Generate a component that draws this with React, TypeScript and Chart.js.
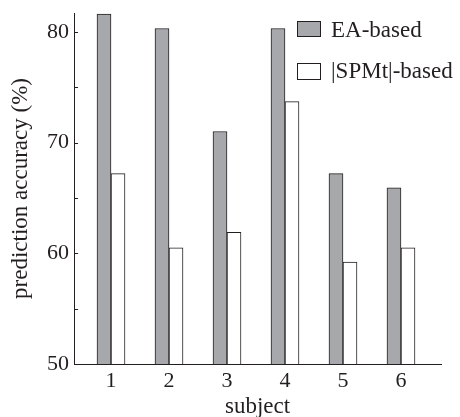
import React, { useEffect, useRef } from "react";
import { Chart, registerables } from "chart.js";

Chart.register(...registerables);

const subjects = [1, 2, 3, 4, 5, 6];
const eaBased = [81.6, 80.3, 71.0, 80.3, 67.2, 65.9];
const spmtBased = [67.2, 60.5, 61.9, 73.7, 59.2, 60.5];
const seriesLabels = ["EA-based", "|SPMt|-based"];
const yTickValues = [50, 55, 60, 65, 70, 75, 80];

const INK = "#231f20";
const GRAY = "#a7a8ac";
const FONT = '"Liberation Serif"';

const legendPlugin = {
  id: "customLegend",
  afterDraw(chart: any) {
    const ctx = chart.ctx;
    const ds = chart.data.datasets;
    const boxX = 297;
    const boxW = 24;
    const rows = [
      { top: 21, h: 16, base: 37 },
      { top: 63, h: 17, base: 77.5 },
    ];
    ctx.save();
    ds.forEach((d: any, i: number) => {
      const r = rows[i];
      ctx.fillStyle = d.backgroundColor;
      ctx.fillRect(boxX, r.top, boxW, r.h);
      ctx.strokeStyle = INK;
      ctx.lineWidth = 1;
      ctx.strokeRect(boxX + 0.5, r.top + 0.5, boxW - 1, r.h - 1);
      ctx.fillStyle = INK;
      ctx.font = `23px ${FONT}`;
      ctx.textBaseline = "alphabetic";
      ctx.textAlign = "left";
      ctx.fillText(d.label, 331, r.base);
    });
    ctx.restore();
  },
};

const innerTicksPlugin = {
  id: "innerTicks",
  afterDraw(chart: any) {
    const y = chart.scales.y;
    const ctx = chart.ctx;
    ctx.save();
    ctx.strokeStyle = INK;
    ctx.lineWidth = 1;
    yTickValues.forEach((v) => {
      const py = Math.round(y.getPixelForValue(v)) + 0.5;
      ctx.beginPath();
      ctx.moveTo(chart.chartArea.left, py);
      ctx.lineTo(chart.chartArea.left + 4, py);
      ctx.stroke();
    });
    ctx.restore();
  },
};

export default function App() {
  const ref = useRef<HTMLCanvasElement>(null);
  useEffect(() => {
    document.body.style.margin = "0";
    let chart: any = null;
    let cancelled = false;
    const build = () => {
      if (cancelled || !ref.current) return;
      chart = new Chart(ref.current as HTMLCanvasElement, {
        type: "bar",
        data: {
          datasets: [
            {
              label: seriesLabels[0],
              data: subjects.map((s, i) => ({ x: s, y: eaBased[i] })),
              backgroundColor: GRAY,
              borderColor: INK,
              borderWidth: 1,
              barThickness: 14,
            },
            {
              label: seriesLabels[1],
              data: subjects.map((s, i) => ({ x: s, y: spmtBased[i] })),
              backgroundColor: "#ffffff",
              borderColor: INK,
              borderWidth: 1,
              barThickness: 14,
            },
          ] as any,
        },
        options: {
          animation: false,
          responsive: false,
          layout: { padding: { top: 13, right: 19, left: 0, bottom: 0 } },
          plugins: { legend: { display: false }, tooltip: { enabled: false } },
          scales: {
            x: {
              type: "linear",
              offset: false,
              min: 0.362,
              max: 6.69,
              grid: { display: false, drawTicks: false, offset: false },
              border: { display: true, color: INK, width: 1 },
              afterBuildTicks: (scale: any) => {
                scale.ticks = subjects.map((v) => ({ value: v }));
              },
              afterFit: (scale: any) => {
                scale.height = 53;
                scale.paddingLeft = 0;
                scale.paddingRight = 0;
              },
              ticks: {
                color: INK,
                font: { family: FONT, size: 22 },
                padding: 4,
                maxRotation: 0,
                callback: (v: any) => String(v),
              },
              title: {
                display: true,
                text: "subject",
                color: INK,
                font: { family: FONT, size: 23 },
                padding: { top: 0, bottom: -4 },
              },
            },
            y: {
              min: 50,
              max: 81.7,
              grid: { display: false, drawTicks: false },
              border: { display: true, color: INK, width: 1 },
              afterFit: (scale: any) => {
                scale.width = 74;
                scale.paddingTop = 0;
                scale.paddingBottom = 0;
              },
              ticks: {
                stepSize: 5,
                includeBounds: false,
                color: INK,
                font: { family: FONT, size: 22 },
                padding: 5,
                callback: (v: any) => (Number(v) % 10 === 0 ? String(v) : ""),
              },
              title: {
                display: true,
                text: "prediction accuracy (%)",
                color: INK,
                font: { family: FONT, size: 23 },
                padding: { top: 7, bottom: 0 },
              },
            },
          },
        } as any,
        plugins: [legendPlugin, innerTicksPlugin],
      });
    };
    const fonts: any = (document as any).fonts;
    if (fonts && fonts.load) {
      Promise.all([
        fonts.load('22px "Liberation Serif"'),
        fonts.load('23px "Liberation Serif"'),
      ])
        .catch(() => null)
        .then(build);
    } else {
      build();
    }
    return () => {
      cancelled = true;
      if (chart) chart.destroy();
    };
  }, []);
  return (
    <div style={{ width: 460, height: 417 }}>
      <canvas ref={ref} width={460} height={417} />
    </div>
  );
}
